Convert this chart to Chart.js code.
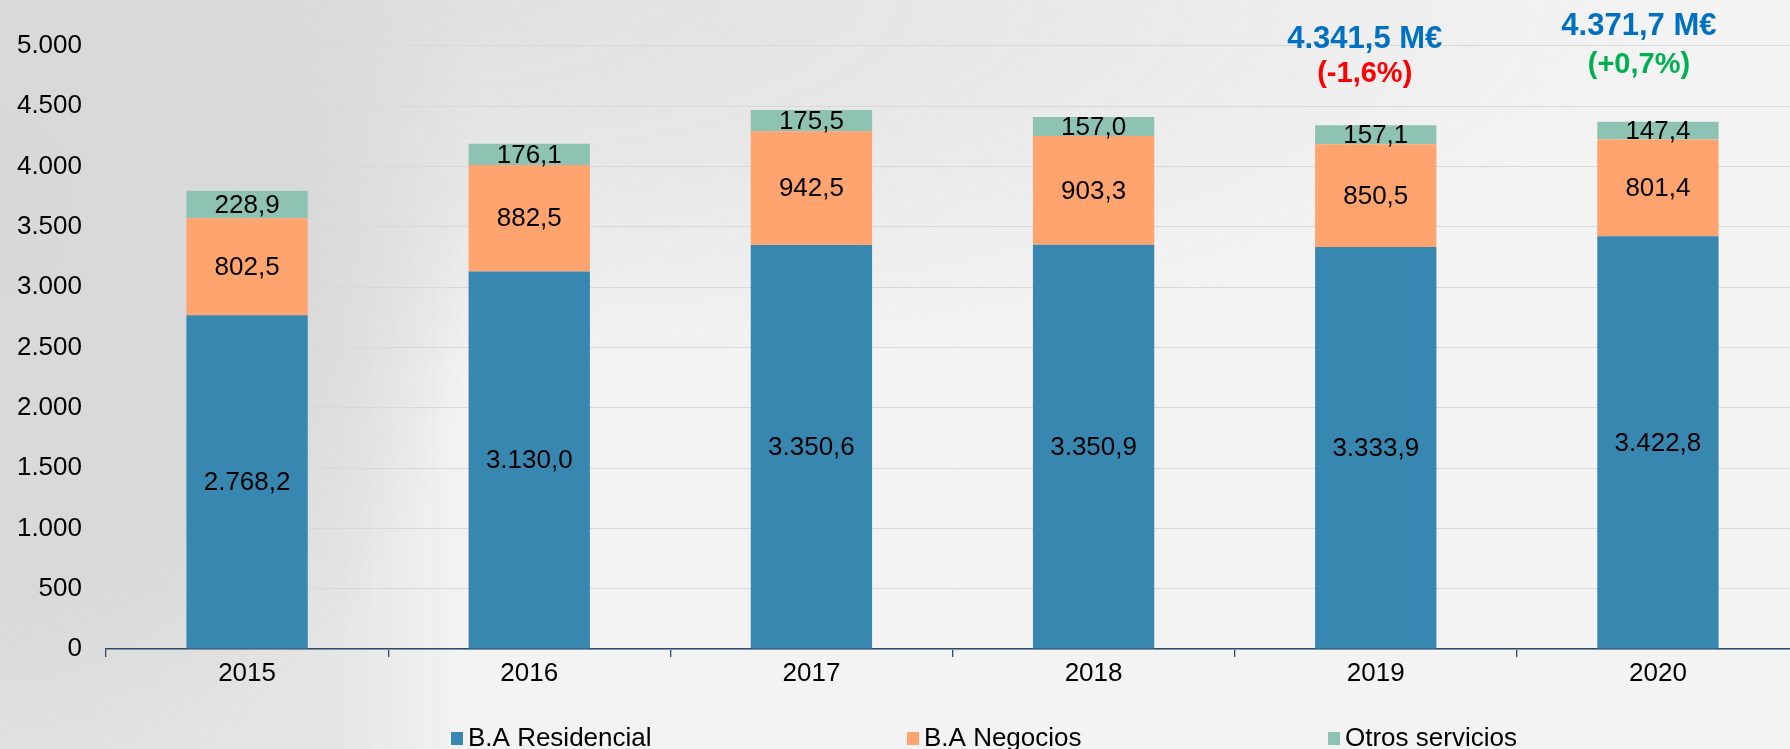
<!DOCTYPE html>
<html>
<head>
<meta charset="utf-8">
<script src="https://cdn.jsdelivr.net/npm/chart.js@4.4.1/dist/chart.umd.min.js"></script>
<style>
  html, body { margin: 0; padding: 0; overflow: hidden; width: 1790px; height: 749px; }
  body {
    background:
      radial-gradient(ellipse 480px 640px at 0px 200px, #d8d8d8 0%, #d9d9d9 62%, rgba(217,217,217,0) 100%),
      radial-gradient(ellipse 1300px 380px at 350px 0px, #dfdfdf 0%, rgba(228,228,228,0.75) 50%, rgba(243,243,243,0) 100%),
      linear-gradient(to right, #e5e5e5 0px, #e6e6e6 340px, rgba(243,243,243,0) 470px),
      #f3f3f3;
  }
  #wrap { position: absolute; left: 0; top: 0; width: 1800px; height: 749px; }
</style>
</head>
<body>
<div id="wrap"><canvas id="c" width="1800" height="749"></canvas></div>
<script>
const categories = ['2015', '2016', '2017', '2018', '2019', '2020'];
const residencial = [2768.2, 3130.0, 3350.6, 3350.9, 3333.9, 3422.8];
const negocios = [802.5, 882.5, 942.5, 903.3, 850.5, 801.4];
const otros = [228.9, 176.1, 175.5, 157.0, 157.1, 147.4];
const seriesNames = ['B.A Residencial', 'B.A Negocios', 'Otros servicios'];
const totalLabels = ['', '', '', '', '4.341,5 M€', '4.371,7 M€'];
const changeLabels = ['', '', '', '', '(-1,6%)', '(+0,7%)'];
const yTicks = [0, 500, 1000, 1500, 2000, 2500, 3000, 3500, 4000, 4500, 5000];

const COLORS = ['#3787b0', '#ffa36f', '#8ec3b4'];
const FONT = '"Liberation Sans", Arial, sans-serif';

function fmt(v, dec) {
  const s = v.toFixed(dec);
  const parts = s.split('.');
  const intPart = parts[0].replace(/\B(?=(\d{3})+(?!\d))/g, '.');
  return parts.length > 1 ? intPart + ',' + parts[1] : intPart;
}

const segLabels = {
  id: 'segLabels',
  afterDatasetsDraw(chart) {
    const ctx = chart.ctx;
    ctx.save();
    ctx.font = '26px ' + FONT;
    ctx.fillStyle = '#000';
    ctx.textAlign = 'center';
    ctx.textBaseline = 'middle';
    chart.data.datasets.forEach((ds, di) => {
      const meta = chart.getDatasetMeta(di);
      meta.data.forEach((el, i) => {
        const y = (el.y + el.base) / 2;
        ctx.fillText(fmt(ds.data[i], 1), el.x, y + 1);
      });
    });
    ctx.restore();
  }
};

const annotations = {
  id: 'annotations',
  afterDatasetsDraw(chart) {
    const ctx = chart.ctx;
    const xs = chart.scales.x;
    const layout = { 4: { dx: -11, y1: 39, y2: 74 }, 5: { dx: -19, y1: 26, y2: 65 } };
    ctx.save();
    ctx.textAlign = 'center';
    ctx.textBaseline = 'middle';
    categories.forEach((c, i) => {
      if (!totalLabels[i]) return;
      const L = layout[i];
      const x = xs.getPixelForValue(i) + L.dx;
      ctx.font = 'bold 31px ' + FONT;
      ctx.fillStyle = '#0070c0';
      ctx.fillText(totalLabels[i], x, L.y1);
      ctx.font = 'bold 29px ' + FONT;
      ctx.fillStyle = changeLabels[i].indexOf('-') >= 0 ? '#ff0000' : '#00b050';
      ctx.fillText(changeLabels[i], x, L.y2);
    });
    ctx.restore();
  }
};

const customLegend = {
  id: 'customLegend',
  afterDraw(chart) {
    const ctx = chart.ctx;
    const pos = [451, 907, 1328];
    ctx.save();
    ctx.font = '26px ' + FONT;
    ctx.textBaseline = 'alphabetic';
    ctx.textAlign = 'left';
    chart.data.datasets.forEach((ds, i) => {
      ctx.fillStyle = ds.backgroundColor;
      ctx.fillRect(pos[i], 732, 12, 13);
      ctx.fillStyle = '#000';
      ctx.fillText(ds.label, pos[i] + 17, 746);
    });
    ctx.restore();
  }
};

new Chart(document.getElementById('c'), {
  type: 'bar',
  data: {
    labels: categories,
    datasets: [
      { label: seriesNames[0], data: residencial, backgroundColor: COLORS[0] },
      { label: seriesNames[1], data: negocios, backgroundColor: COLORS[1] },
      { label: seriesNames[2], data: otros, backgroundColor: COLORS[2] }
    ]
  },
  options: {
    responsive: false,
    animation: false,
    devicePixelRatio: 1,
    layout: { padding: { top: 0, bottom: 0, left: 0, right: 1 } },
    datasets: { bar: { categoryPercentage: 1, barPercentage: 0.43, borderWidth: 0 } },
    plugins: { legend: { display: false }, tooltip: { enabled: false } },
    scales: {
      x: {
        stacked: true,
        afterFit(s) { s.height = 100; s.paddingLeft = 0; s.paddingRight = 0; },
        border: { display: true, color: '#2b4d6c', width: 1.5 },
        grid: { display: true, drawOnChartArea: false, drawTicks: true, tickLength: 8, color: '#2b4d6c', lineWidth: 1.3, offset: true },
        ticks: { color: '#000', font: { family: FONT, size: 26 }, padding: 1, maxRotation: 0 }
      },
      y: {
        stacked: true,
        min: 0,
        max: 5381,
        afterBuildTicks(s) { s.ticks = yTicks.map(v => ({ value: v })); },
        afterFit(s) { s.width = 106; s.paddingTop = 0; s.paddingBottom = 0; },
        border: { display: false },
        grid: { color: '#d9d9d9', lineWidth: 1, drawTicks: false },
        ticks: { color: '#000', font: { family: FONT, size: 26 }, padding: 24, callback: v => fmt(v, 0) }
      }
    }
  },
  plugins: [segLabels, annotations, customLegend]
});
</script>
</body>
</html>
